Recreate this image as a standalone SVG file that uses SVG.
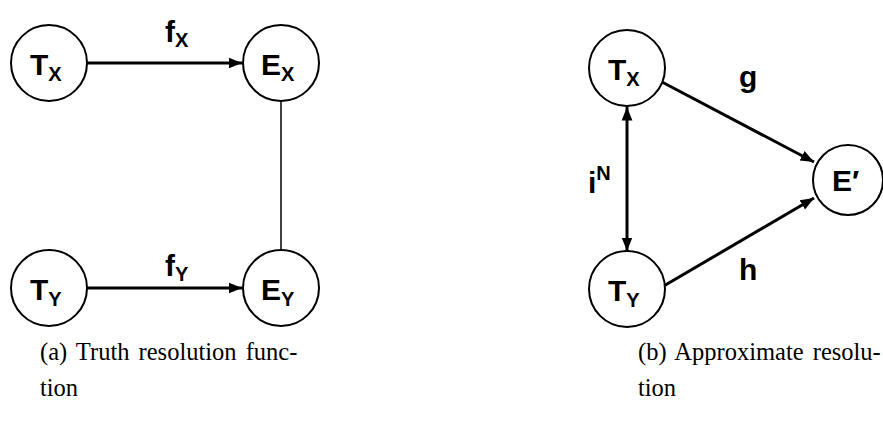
<svg xmlns="http://www.w3.org/2000/svg" width="883" height="426" viewBox="0 0 883 426">
<style>
.node{fill:#fff;stroke:#000;stroke-width:2}
.lbl{font-family:"Liberation Sans",Arial,sans-serif;font-weight:bold;font-size:30px;fill:#000}
.sub{font-size:20px}
.edge{stroke:#000;stroke-width:3;fill:none}
.thin{stroke:#000;stroke-width:1.5;fill:none}
.cap{font-family:"Liberation Serif","Times New Roman",serif;font-size:24.5px;fill:#000;word-spacing:3px}
</style>
<defs>
<marker id="ah" viewBox="0 0 10 10" refX="10" refY="5" markerWidth="4.5" markerHeight="4.5" orient="auto-start-reverse" markerUnits="strokeWidth">
<path d="M0,1 L10,5 L0,9 z" fill="#000"/>
</marker>
</defs>
<g id="connectors">
<line class="edge" x1="87" y1="63" x2="242" y2="63" marker-end="url(#ah)"/>
<line class="thin" x1="281" y1="101" x2="281" y2="250"/>
<line class="edge" x1="87" y1="288" x2="242" y2="288" marker-end="url(#ah)"/>
<line class="edge" x1="627" y1="107" x2="627" y2="251" marker-start="url(#ah)" marker-end="url(#ah)"/>
<line class="edge" x1="662" y1="82" x2="814" y2="162" marker-end="url(#ah)"/>
<line class="edge" x1="662" y1="287" x2="814" y2="198" marker-end="url(#ah)"/>
<text class="lbl" x="165" y="42">f<tspan class="sub" dy="5">X</tspan></text>
<text class="lbl" x="165" y="276">f<tspan class="sub" dy="5">Y</tspan></text>
<text class="lbl" x="739" y="87">g</text>
<text class="lbl" x="739" y="280">h</text>
<text class="lbl" x="588" y="193">i<tspan class="sub" dy="-13">N</tspan></text>
</g>
<g id="tx_a"><circle class="node" cx="49" cy="63" r="38"/><text class="lbl" x="30" y="75">T<tspan class="sub" dy="6">X</tspan></text></g>
<g id="ex_a"><circle class="node" cx="281" cy="63" r="38"/><text class="lbl" x="261" y="75">E<tspan class="sub" dy="6">X</tspan></text></g>
<g id="ty_a"><circle class="node" cx="49" cy="288" r="38"/><text class="lbl" x="30" y="300">T<tspan class="sub" dy="6">Y</tspan></text></g>
<g id="ey_a"><circle class="node" cx="281" cy="288" r="38"/><text class="lbl" x="261" y="300">E<tspan class="sub" dy="6">Y</tspan></text></g>
<g id="tx_b"><circle class="node" cx="627" cy="68" r="38"/><text class="lbl" x="608" y="80">T<tspan class="sub" dy="6">X</tspan></text></g>
<g id="ty_b"><circle class="node" cx="627" cy="289" r="38"/><text class="lbl" x="608" y="301">T<tspan class="sub" dy="6">Y</tspan></text></g>
<g id="ep_b"><circle class="node" cx="848" cy="180" r="35"/><text class="lbl" x="832" y="191">E′</text></g>
<g id="captions">
<text class="cap" x="40" y="360">(a) Truth resolution func-</text>
<text class="cap" x="40" y="396">tion</text>
<text class="cap" x="638" y="360">(b) Approximate resolu-</text>
<text class="cap" x="638" y="396">tion</text>
</g>
</svg>
